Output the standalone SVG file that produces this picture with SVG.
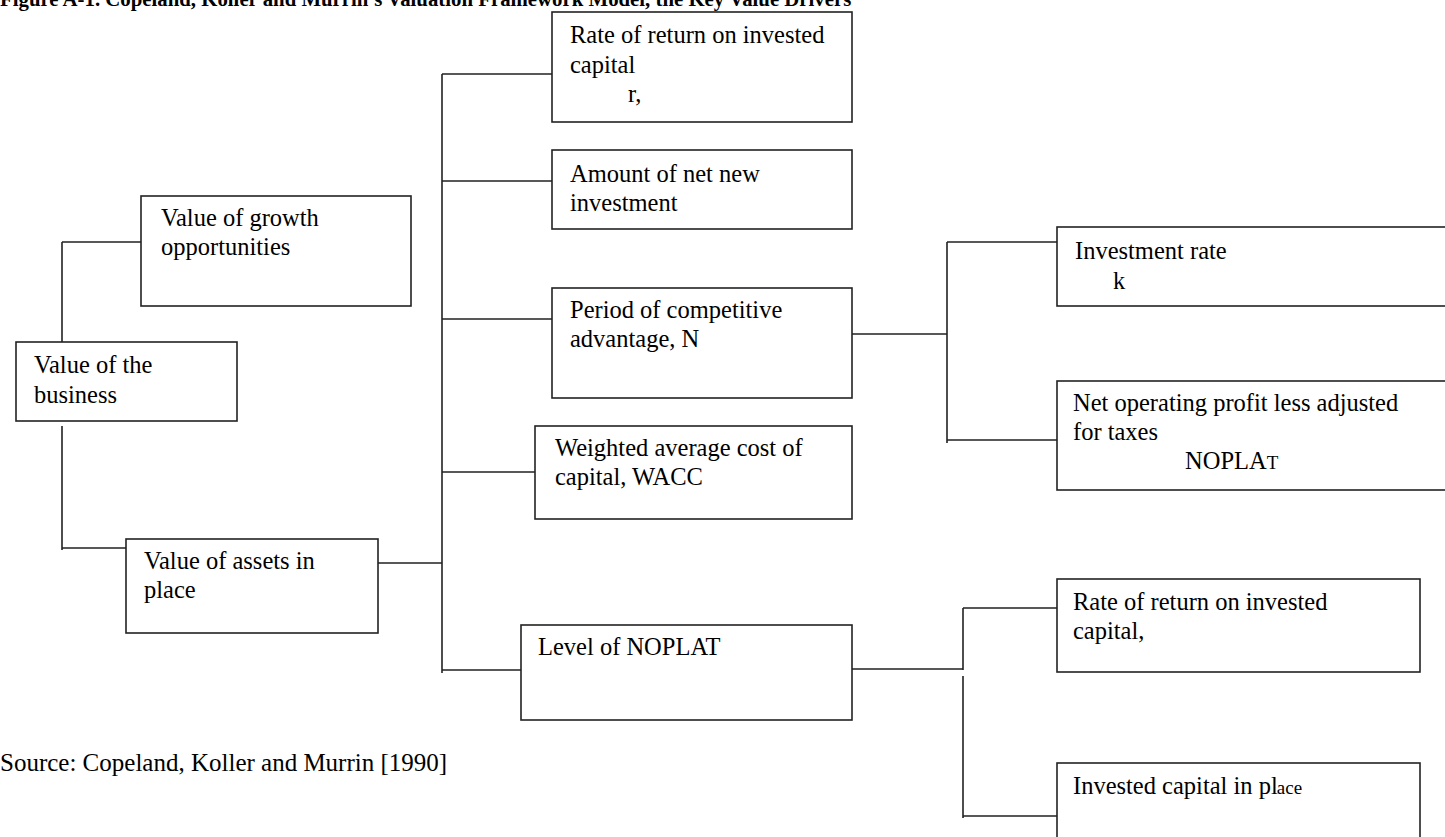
<svg xmlns="http://www.w3.org/2000/svg" width="1445" height="837" viewBox="0 0 1445 837">
<style>
.box{fill:#fff;stroke:#222;stroke-width:1.6}
.ln{fill:none;stroke:#222;stroke-width:1.6}
text{font-family:"Liberation Serif","Times New Roman",serif;font-size:24.5px;fill:#000}
.title{font-weight:bold;font-size:20.8px}
.src{font-size:25px}
.sm{font-size:19px}
</style>
<rect width="1445" height="837" fill="#fff"/>
<text class="title" x="0" y="6">Figure A-1. Copeland, Koller and Murrin's Valuation Framework Model, the Key Value Drivers</text>
<g id="connectors">
<path class="ln" d="M62,242 H141 M62,242 V353 M62,426 V550 M62,548 H126"/>
<path class="ln" d="M378,563 H442 M442,74 V673 M442,74 H552 M442,181 H552 M442,319 H552 M442,472 H535 M442,670 H521"/>
<path class="ln" d="M852,334 H947 M947,242 V443 M947,242 H1057 M947,440 H1057"/>
<path class="ln" d="M852,669 H963 M963,608 V670 M963,676 V818 M963,608 H1057 M963,816 H1057"/>
</g>
<g id="n-business"><rect class="box" x="16" y="342" width="221" height="79"/><text x="34" y="373">Value of the</text><text x="34" y="403">business</text></g>
<g id="n-growth"><rect class="box" x="141" y="196" width="270" height="110"/><text x="161" y="226">Value of growth</text><text x="161" y="255">opportunities</text></g>
<g id="n-assets"><rect class="box" x="126" y="539" width="252" height="94"/><text x="144" y="569">Value of assets in</text><text x="144" y="598">place</text></g>
<g id="n-roic1"><rect class="box" x="552" y="12" width="300" height="110"/><text x="570" y="43">Rate of return on invested</text><text x="570" y="73">capital</text><text x="628" y="102">r,</text></g>
<g id="n-netinv"><rect class="box" x="552" y="150" width="300" height="79"/><text x="570" y="182">Amount of net new</text><text x="570" y="211">investment</text></g>
<g id="n-period"><rect class="box" x="552" y="288" width="300" height="110"/><text x="570" y="318">Period of competitive</text><text x="570" y="347">advantage, N</text></g>
<g id="n-wacc"><rect class="box" x="535" y="426" width="317" height="93"/><text x="555" y="456">Weighted average cost of</text><text x="555" y="485">capital, WACC</text></g>
<g id="n-level"><rect class="box" x="521" y="625" width="331" height="95"/><text x="538" y="655">Level of NOPLAT</text></g>
<g id="n-invrate"><rect class="box" x="1057" y="227" width="420" height="79"/><text x="1075" y="259">Investment rate</text><text x="1113" y="289">k</text></g>
<g id="n-noplat"><rect class="box" x="1057" y="381" width="420" height="109"/><text x="1073" y="411">Net operating profit less adjusted</text><text x="1073" y="440">for taxes</text><text x="1185" y="469">NOPLA<tspan class="sm">T</tspan></text></g>
<g id="n-roic2"><rect class="box" x="1057" y="579" width="363" height="93"/><text x="1073" y="610">Rate of return on invested</text><text x="1073" y="639">capital,</text></g>
<g id="n-capital"><rect class="box" x="1057" y="763" width="363" height="100"/><text x="1073" y="794">Invested capital in pl<tspan class="sm" dx="-1">ace</tspan></text></g>
<text class="src" x="0" y="771">Source: Copeland, Koller and Murrin [1990]</text>
</svg>
